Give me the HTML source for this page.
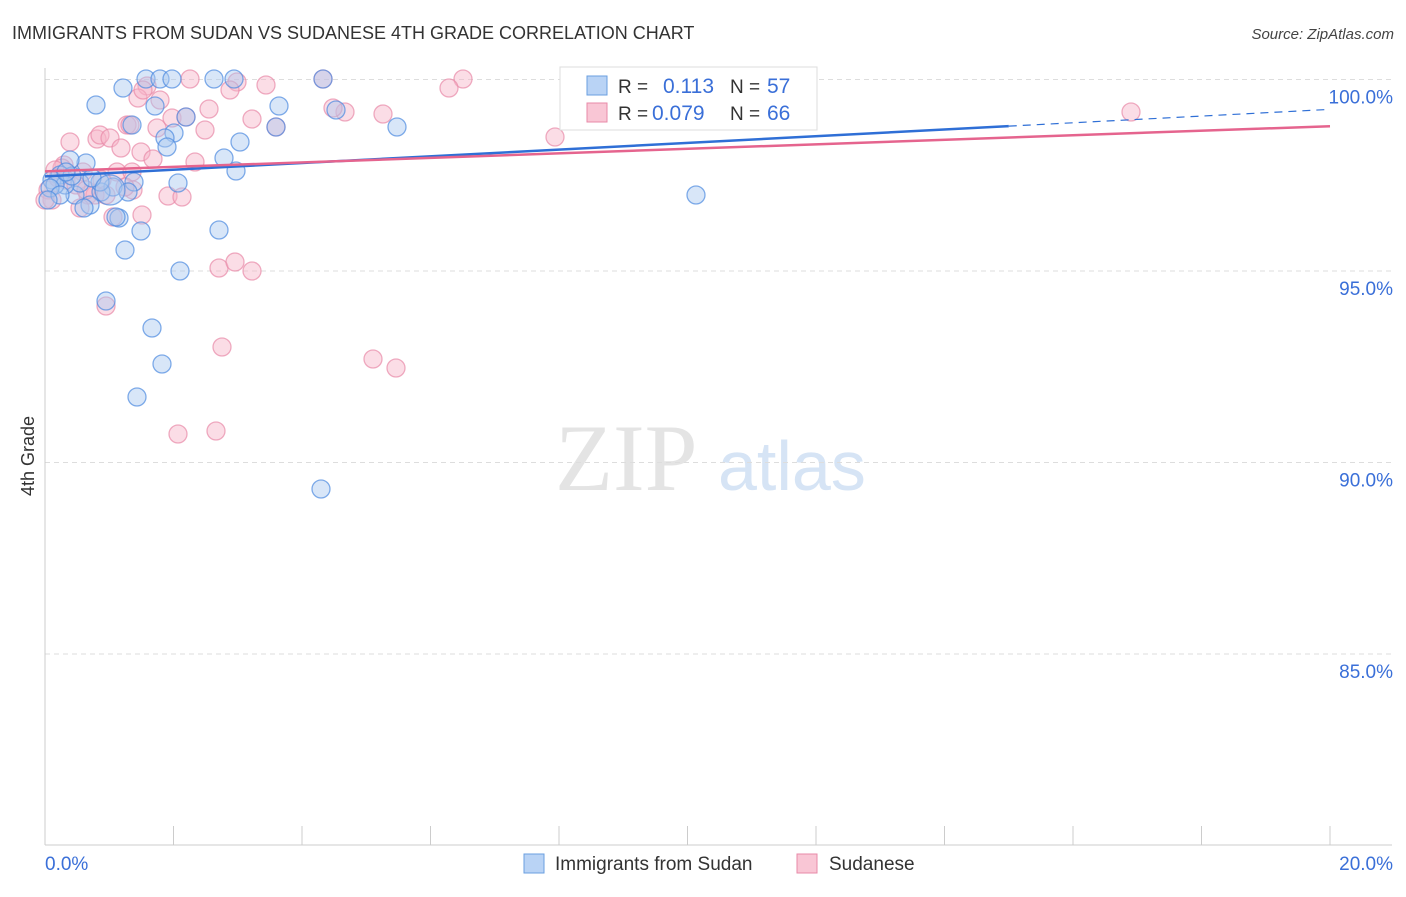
<!DOCTYPE html>
<html><head><meta charset="utf-8"><style>
body{margin:0;background:#fff;font-family:"Liberation Sans",sans-serif}
#wrap{position:relative;width:1406px;height:892px}
</style></head><body>
<div id="wrap">
<svg id="chart" width="1406" height="892" xmlns="http://www.w3.org/2000/svg">
<text x="12" y="39" font-size="18" fill="#333">IMMIGRANTS FROM SUDAN VS SUDANESE 4TH GRADE CORRELATION CHART</text>
<text x="1394" y="39" font-size="15" fill="#444" font-style="italic" text-anchor="end">Source: ZipAtlas.com</text>
<text x="555" y="490" font-size="95" fill="#e4e4e4" font-family="Liberation Serif">ZIP</text>
<text x="718" y="490" font-size="70" fill="#d6e4f5">atlas</text>
<text transform="translate(34,456) rotate(-90)" font-size="18" fill="#333" text-anchor="middle">4th Grade</text>
<g id="grid"></g><g id="pts"></g><g id="lines"></g>
<g>
<rect x="560" y="67" width="257" height="63" fill="#fff" stroke="#ddd"/>
<rect x="587" y="76" width="20" height="19" fill="#b9d3f5" stroke="#6a9fe0"/>
<text x="618" y="93" font-size="19" fill="#333">R = </text>
<text x="663" y="93" font-size="21" fill="#3a6fd8">0.113</text>
<text x="730" y="93" font-size="19" fill="#333">N = </text>
<text x="767" y="93" font-size="21" fill="#3a6fd8">57</text>
<rect x="587" y="103" width="20" height="19" fill="#f9c6d5" stroke="#e88aa8"/>
<text x="618" y="120" font-size="19" fill="#333">R = </text>
<text x="652" y="120" font-size="21" fill="#3a6fd8">0.079</text>
<text x="730" y="120" font-size="19" fill="#333">N = </text>
<text x="767" y="120" font-size="21" fill="#3a6fd8">66</text>
</g>
<g>
<rect x="524" y="854" width="20" height="19" fill="#b9d3f5" stroke="#6a9fe0"/>
<text x="555" y="870" font-size="19" fill="#333">Immigrants from Sudan</text>
<rect x="797" y="854" width="20" height="19" fill="#f9c6d5" stroke="#e88aa8"/>
<text x="829" y="870" font-size="19" fill="#333">Sudanese</text>
</g>
</svg></div>
<script>
const yTicks=[100,95,90,85];
const yTickLabels=["100.0%","95.0%","90.0%","85.0%"];
const xTickLabels=["0.0%","20.0%"];
const sudanPx=[[123,88],[146,79],[160,79],[172,79],[214,79],[234,79],[96,105],[155,106],[279,106],[186,117],[132,125],[174,133],[165,138],[167,147],[240,142],[397,127],[336,110],[323,79],[276,127],[224,158],[236,171],[178,183],[134,182],[113,187],[101,192],[86,163],[70,160],[60,175],[52,180],[75,195],[80,183],[90,205],[84,208],[119,218],[116,217],[141,231],[219,230],[125,250],[180,271],[106,301],[152,328],[162,364],[137,397],[321,489],[696,195],[802,112],[128,192],[65,185],[55,185],[72,176],[100,182],[50,188],[60,195],[48,200],[66,172],[92,178],[110,190]];
const sudanesePx=[[190,79],[237,82],[266,85],[323,79],[463,79],[449,88],[147,86],[138,98],[209,109],[252,119],[345,112],[383,114],[1131,112],[555,137],[70,142],[97,139],[100,135],[110,138],[127,125],[130,125],[157,128],[172,118],[186,117],[205,130],[276,127],[121,148],[141,152],[153,159],[195,162],[64,165],[62,168],[83,172],[102,180],[117,172],[132,172],[133,190],[125,187],[168,196],[182,197],[142,215],[113,217],[88,195],[80,208],[48,190],[52,200],[55,170],[106,306],[219,268],[235,262],[252,271],[222,347],[373,359],[396,368],[178,434],[216,431],[66,180],[76,185],[95,195],[45,200],[58,178],[86,190],[106,195],[160,100],[143,90],[230,90],[333,108]];
// convert reading positions into data values (x %, y %)
const toData=p=>[(p[0]-45)/1285*20, 100-(p[1]-79.5)/38.3];
const sudanX=sudanPx.map(p=>toData(p)[0]), sudanY=sudanPx.map(p=>toData(p)[1]);
const sudaneseX=sudanesePx.map(p=>toData(p)[0]), sudaneseY=sudanesePx.map(p=>toData(p)[1]);
const sudanTrend=[97.47,99.22]; // y at x=0 and x=20
const sudaneseTrend=[97.6,98.78];
const X=v=>45+v/20*1285, Y=v=>79.5+(100-v)*38.3;
const NS="http://www.w3.org/2000/svg";
function mk(t,a,parent){const e=document.createElementNS(NS,t);for(const k in a)e.setAttribute(k,a[k]);parent.appendChild(e);return e;}
const grid=document.getElementById('grid');
yTicks.forEach((t,i)=>{
 const l=mk('line',{x1:45,x2:1392,y1:Y(t),y2:Y(t),stroke:'#ddd','stroke-dasharray':'5,4'},grid);
 
 
 const tx=mk('text',{x:1393,y:Y(t)+24,'font-size':19,fill:'#3a6fd8','text-anchor':'end'},grid);tx.textContent=yTickLabels[i];
 
 
});
const ax=mk('line',{x1:45,x2:1392,y1:845,y2:845,stroke:'#ccc'},grid);


const ay=mk('line',{x1:45,x2:45,y1:68,y2:845,stroke:'#ccc'},grid);


for(let i=0;i<=10;i++){const t=mk('line',{x1:X(i*2),x2:X(i*2),y1:826,y2:845,stroke:'#ccc'},grid);
 
 }
[[0,'start',45],[1,'end',1393]].forEach(([i,a,x])=>{const t=mk('text',{x:x,y:870,'font-size':19,fill:'#3a6fd8','text-anchor':a},grid);t.textContent=xTickLabels[i];
 
 });
const pts=document.getElementById('pts');
function draw(xs,ys,fill,stroke,name){xs.forEach((x,i)=>{const r=(i===xs.length-1&&name==='sudan')?15:9;
 const c=mk('circle',{cx:X(x),cy:Y(ys[i]),r:r,fill:fill,'fill-opacity':0.45,stroke:stroke,'stroke-opacity':0.7,'stroke-width':1.3},pts);
 
 });}
draw(sudaneseX,sudaneseY,'#f6b3c8','#e88aa8','sudanese');
draw(sudanX,sudanY,'#a9c8f0','#4d8ae0','sudan');
const lines=document.getElementById('lines');
const bx=15;const by=sudanTrend[0]+(sudanTrend[1]-sudanTrend[0])*bx/20;
const b1=mk('line',{x1:X(0),y1:Y(sudanTrend[0]),x2:X(bx),y2:Y(by),stroke:'#2f6fd6','stroke-width':2.5},lines);


const b2=mk('line',{x1:X(bx),y1:Y(by),x2:X(20),y2:Y(sudanTrend[1]),stroke:'#2f6fd6','stroke-width':1.2,'stroke-dasharray':'8,6'},lines);


const p1=mk('line',{x1:X(0),y1:Y(sudaneseTrend[0]),x2:X(20),y2:Y(sudaneseTrend[1]),stroke:'#e5648e','stroke-width':2.5},lines);


</script>
</body></html>
